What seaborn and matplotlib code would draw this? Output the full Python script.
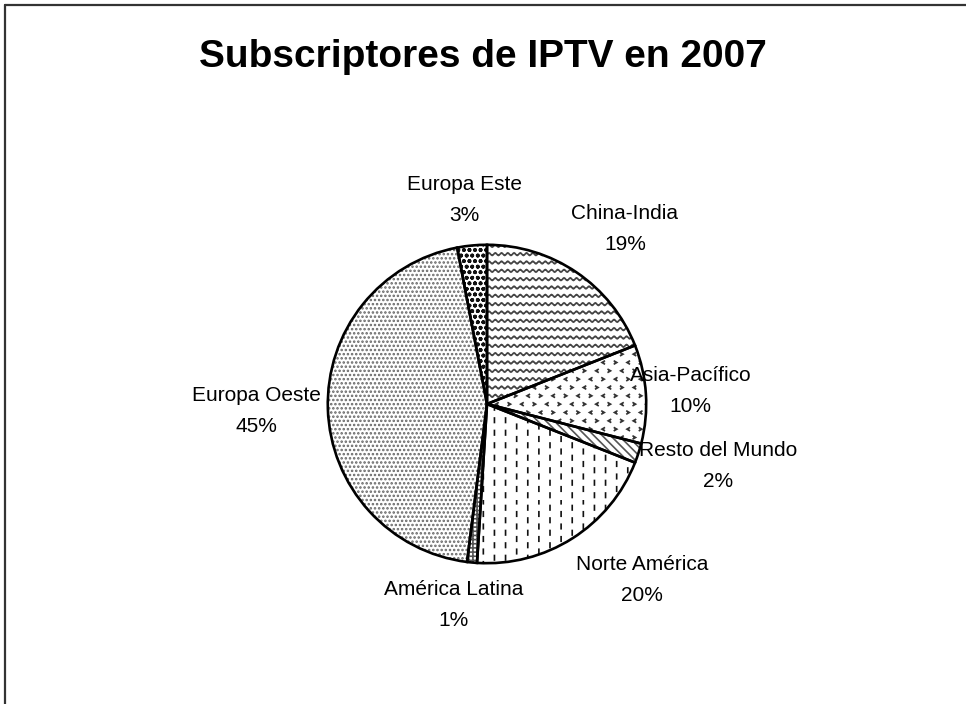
import warnings
warnings.filterwarnings("ignore")
import numpy as np
import matplotlib
matplotlib.use("Agg")
import matplotlib.pyplot as plt
import matplotlib.hatch as mhatch
from matplotlib.path import Path
from matplotlib.lines import Line2D
from matplotlib import font_manager
import seaborn as sns

# ---------------- data ----------------
title = "Subscriptores de IPTV en 2007"
regions = ["China-India", "Asia-Pacífico", "Resto del Mundo", "Norte América",
           "América Latina", "Europa Oeste", "Europa Este"]
shares = [19, 10, 2, 20, 1, 45, 3]

# ---------------- styles ----------------
hatches = ["~~", "<", "\\\\\\\\", ":", "++++", "....", "ooo"]
hatch_colors = ["#444444", "#333333", "#555555", "#111111", "#555555", "#666666", "#111111"]
label_dist = [1.40, 1.28, 1.50, 1.47, 1.28, 1.45, 1.29]
label_turn = [-4, 0, 3, 9, -4, 0, 1]   # degrees, label placement tweak


# ---------------- custom hatch patterns ----------------
class WaveHatch(mhatch.HatchPatternBase):
    def __init__(self, hatch, density):
        self.num_lines = int(hatch.count('~') * density)
        self.nseg = 128
        self.num_vertices = self.num_lines * (self.nseg + 1)

    def set_vertices_and_codes(self, vertices, codes):
        steps, h = np.linspace(0, 1, self.num_lines, False, retstep=True)
        steps += h / 2
        x = np.linspace(0, 1, self.nseg + 1)
        n = self.nseg + 1
        for i, s in enumerate(steps):
            vertices[i * n:(i + 1) * n, 0] = x
            vertices[i * n:(i + 1) * n, 1] = s + 0.013 * np.sin(2 * np.pi * 16 * x)
            codes[i * n] = Path.MOVETO
            codes[i * n + 1:(i + 1) * n] = Path.LINETO


class ChevronHatch(mhatch.HatchPatternBase):
    def __init__(self, hatch, density):
        k = hatch.count('<')
        self.rows = 12 * k
        self.cols = 8 * k
        self.num_vertices = self.rows * self.cols * 3 if k else 0

    def set_vertices_and_codes(self, vertices, codes):
        w, hh = 0.012, 0.014
        idx = 0
        for r in range(self.rows):
            y = (r + 0.5) / self.rows
            for c in range(self.cols):
                x = (c + 0.5 * (r % 2) + 0.25) / self.cols
                d = 1 if (c + r // 2) % 2 == 0 else -1
                vertices[idx] = (x + d * w, y + hh)
                vertices[idx + 1] = (x - d * w, y)
                vertices[idx + 2] = (x + d * w, y - hh)
                codes[idx] = Path.MOVETO
                codes[idx + 1] = Path.LINETO
                codes[idx + 2] = Path.LINETO
                idx += 3


class DashHatch(mhatch.HatchPatternBase):
    def __init__(self, hatch, density):
        k = hatch.count(':')
        self.cols = 9 * k
        self.rows = 8 * k
        self.num_vertices = self.cols * self.rows * 2 if k else 0

    def set_vertices_and_codes(self, vertices, codes):
        L = 0.045
        idx = 0
        for c in range(self.cols):
            x = (c + 0.5) / self.cols
            for r in range(self.rows):
                y = (r + 0.5 * (c % 2) + 0.2) / self.rows
                vertices[idx] = (x, y)
                vertices[idx + 1] = (x, y + L)
                codes[idx] = Path.MOVETO
                codes[idx + 1] = Path.LINETO
                idx += 2


mhatch._hatch_types.extend([WaveHatch, ChevronHatch, DashHatch])

# ---------------- figure ----------------
sns.set_theme(style="white")
available = {f.name for f in font_manager.fontManager.ttflist}
if "Liberation Sans Narrow" in available:
    label_font, label_size = "Liberation Sans Narrow", 16
else:
    label_font, label_size = "Liberation Sans", 15
plt.rcParams["font.family"] = [label_font, "DejaVu Sans"]
plt.rcParams["hatch.linewidth"] = 1.2

W, H = 966, 704
fig = plt.figure(figsize=(W / 100, H / 100), dpi=100)
fig.patch.set_facecolor("white")

cx, cy, R = 487, 404, 160
ax = fig.add_axes([(cx - R) / W, (H - cy - R) / H, 2 * R / W, 2 * R / H])

wedges, _ = ax.pie(shares, startangle=90, counterclock=False, radius=1,
                   wedgeprops=dict(linewidth=0, facecolor="white"))
for w, hatch, hc in zip(wedges, hatches, hatch_colors):
    w.set_edgecolor(hc)
    w.set_hatch(hatch)

outline, _ = ax.pie(shares, startangle=90, counterclock=False, radius=1,
                    wedgeprops=dict(fill=False, edgecolor="black", linewidth=1.9))

ax.set_xlim(-1.005, 1.005)
ax.set_ylim(-1.005, 1.005)
ax.set_aspect("equal")
ax.axis("off")

for w, name, val, dist, turn in zip(wedges, regions, shares, label_dist, label_turn):
    ang = np.deg2rad((w.theta1 + w.theta2) / 2 + turn)
    ax.text(dist * np.cos(ang), dist * np.sin(ang), f"{name}\n{val}%",
            ha="center", va="center", fontsize=label_size, color="black",
            linespacing=1.8, clip_on=False)

fig.text(0.5, (H - 57) / H, title, ha="center", va="center", color="black",
         fontsize=28, fontweight="bold", family=["Liberation Sans", "DejaVu Sans"])

# chart frame (top and left edges visible)
fig.add_artist(Line2D([5 / W, 1.0], [1 - 5 / H, 1 - 5 / H], color="#333333", linewidth=1.6,
                      transform=fig.transFigure))
fig.add_artist(Line2D([5 / W, 5 / W], [0.0, 1 - 5 / H], color="#333333", linewidth=1.6,
                      transform=fig.transFigure))

fig.savefig("out.png", dpi=100)
